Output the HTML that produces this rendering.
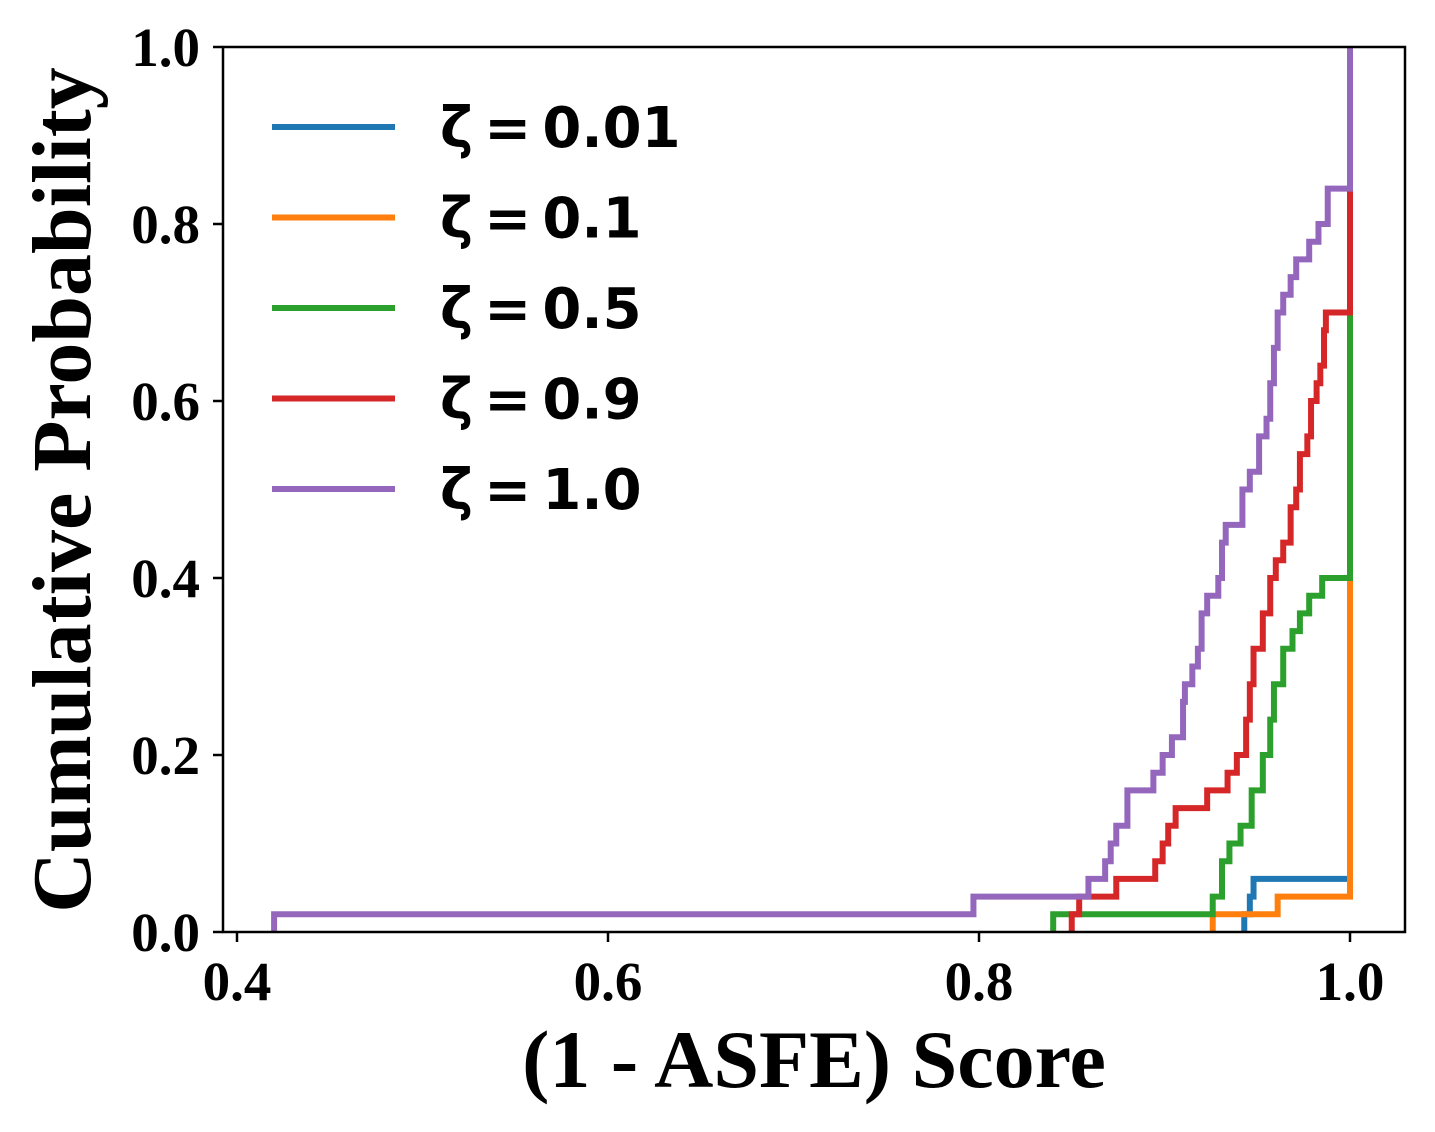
<!DOCTYPE html>
<html><head><meta charset="utf-8"><style>
html,body{margin:0;padding:0;background:#fff;}
svg{display:block;}
.tick{font-family:"Liberation Serif",serif;font-weight:bold;font-size:55px;}
.leg{font-family:"DejaVu Sans","Liberation Sans",sans-serif;font-weight:bold;font-size:56px;}
</style></head><body>
<svg id="chart" width="1435" height="1132" xmlns="http://www.w3.org/2000/svg">
<rect x="0" y="0" width="1435" height="1132" fill="#fff"/>
<g id="plot"></g>
<rect x="223" y="47" width="1182" height="885" fill="none" stroke="#000" stroke-width="2.5"/>
<g id="axes"></g>
<text x="814" y="1087" text-anchor="middle" font-family="Liberation Serif,serif" font-weight="bold" font-size="82">(1 - ASFE) Score</text>
<text transform="translate(90,490) rotate(-90)" text-anchor="middle" font-family="Liberation Serif,serif" font-weight="bold" font-size="84">Cumulative Probability</text>
<g id="legend"></g>
</svg>
<script>
const seriesNames=["ζ\u2009=\u20090.01","ζ\u2009=\u20090.1","ζ\u2009=\u20090.5","ζ\u2009=\u20090.9","ζ\u2009=\u20091.0"];
const seriesColors=["#1f77b4","#ff7f0e","#2ca02c","#d62728","#9467bd"];
const blueX=[0.943,0.946,0.948,1.0];
const blueY=[0.02,0.04,0.06,1.0];
const orangeX=[0.926,0.961,1.0,1.0];
const orangeY=[0.02,0.04,0.40,1.0];
const greenX=[0.840,0.926,0.931,0.935,0.941,0.947,0.953,0.957,0.959,0.964,0.969,0.973,0.978,0.985,1.0,1.0];
const greenY=[0.02,0.04,0.08,0.10,0.12,0.16,0.20,0.24,0.28,0.32,0.34,0.36,0.38,0.40,0.70,1.0];
const redX=[0.850,0.854,0.874,0.895,0.899,0.902,0.906,0.923,0.934,0.939,0.944,0.946,0.948,0.953,0.957,0.960,0.964,0.968,0.971,0.973,0.977,0.979,0.982,0.984,0.986,0.987,1.0,1.0];
const redY=[0.02,0.04,0.06,0.08,0.10,0.12,0.14,0.16,0.18,0.20,0.24,0.28,0.32,0.36,0.40,0.42,0.44,0.48,0.50,0.54,0.56,0.60,0.62,0.64,0.68,0.70,0.84,1.0];
const purpleX=[0.420,0.797,0.859,0.868,0.871,0.874,0.880,0.894,0.899,0.904,0.910,0.911,0.915,0.918,0.920,0.923,0.929,0.931,0.933,0.942,0.946,0.951,0.955,0.957,0.959,0.961,0.964,0.968,0.971,0.978,0.983,0.988,1.0];
const purpleY=[0.02,0.04,0.06,0.08,0.10,0.12,0.16,0.18,0.20,0.22,0.26,0.28,0.30,0.32,0.36,0.38,0.40,0.44,0.46,0.50,0.52,0.56,0.58,0.62,0.66,0.70,0.72,0.74,0.76,0.78,0.80,0.84,1.0];
const xTicks=[0.4,0.6,0.8,1.0];
const xTickLabels=["0.4","0.6","0.8","1.0"];
const yTicks=[0,0.2,0.4,0.6,0.8,1.0];
const yTickLabels=["0.0","0.2","0.4","0.6","0.8","1.0"];

const NS="http://www.w3.org/2000/svg";
function sx(v){return 237+(v-0.4)*1855;}
function sy(v){return 932-v*885;}
const all=[[blueX,blueY],[orangeX,orangeY],[greenX,greenY],[redX,redY],[purpleX,purpleY]];
const keys=["blue","orange","green","red","purple"];
const plot=document.getElementById('plot');
all.forEach((s,i)=>{
  const xs=s[0],ys=s[1];
  let d="M"+sx(xs[0])+","+sy(0);
  for(let k=0;k<xs.length;k++){
    d+=" L"+sx(xs[k])+","+sy(k===0?0:ys[k-1])+" L"+sx(xs[k])+","+sy(ys[k]);
  }
  const p=document.createElementNS(NS,'path');
  p.setAttribute('d',d);
  p.setAttribute('fill','none');
  p.setAttribute('stroke',seriesColors[i]);
  p.setAttribute('stroke-width','6');
  
  
  plot.appendChild(p);
});
const axes=document.getElementById('axes');
xTicks.forEach((v,i)=>{
  const l=document.createElementNS(NS,'line');
  l.setAttribute('x1',sx(v));l.setAttribute('x2',sx(v));l.setAttribute('y1',932);l.setAttribute('y2',942);
  l.setAttribute('stroke','#000');l.setAttribute('stroke-width','2.5');
  
  
  axes.appendChild(l);
  const t=document.createElementNS(NS,'text');
  t.setAttribute('x',sx(v));t.setAttribute('y',1000);t.setAttribute('text-anchor','middle');t.setAttribute('class','tick');
  t.textContent=xTickLabels[i];
  
  
  axes.appendChild(t);
});
yTicks.forEach((v,i)=>{
  const l=document.createElementNS(NS,'line');
  l.setAttribute('x1',213);l.setAttribute('x2',223);l.setAttribute('y1',sy(v));l.setAttribute('y2',sy(v));
  l.setAttribute('stroke','#000');l.setAttribute('stroke-width','2.5');
  
  
  axes.appendChild(l);
  const t=document.createElementNS(NS,'text');
  t.setAttribute('x',200);t.setAttribute('y',sy(v)+19);t.setAttribute('text-anchor','end');t.setAttribute('class','tick');
  t.textContent=yTickLabels[i];
  
  
  axes.appendChild(t);
});
const leg=document.getElementById('legend');
seriesNames.forEach((n,i)=>{
  const y=127+i*90.5;
  const l=document.createElementNS(NS,'line');
  l.setAttribute('x1',272);l.setAttribute('x2',395);l.setAttribute('y1',y);l.setAttribute('y2',y);
  l.setAttribute('stroke',seriesColors[i]);l.setAttribute('stroke-width','6');
  
  
  leg.appendChild(l);
  const t=document.createElementNS(NS,'text');
  t.setAttribute('x',440);t.setAttribute('y',y+20);t.setAttribute('class','leg');
  t.textContent=n;
  
  
  leg.appendChild(t);
});
</script>
</body></html>
